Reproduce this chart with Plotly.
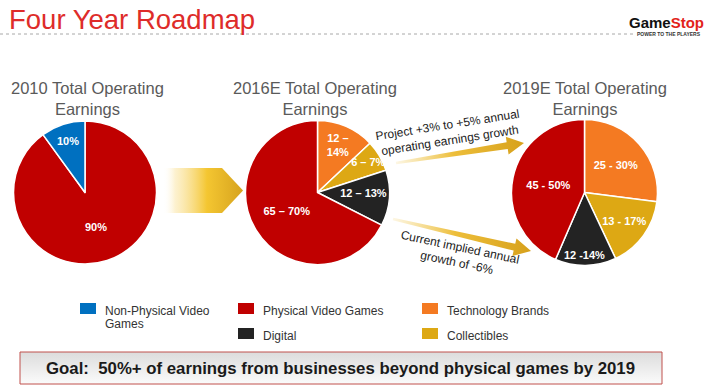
import math
import plotly.graph_objects as go

# ---------------- data ----------------
categories_2010 = ["Physical Video Games", "Non-Physical Video Games"]
values_2010 = [90, 10]
labels_2010 = ["90%", "10%"]

categories_2016 = ["Technology Brands", "Collectibles", "Digital", "Physical Video Games"]
values_2016 = [13, 7, 12.5, 67.5]
labels_2016 = ["12 –<br>14%", "6 – 7%", "12 – 13%", "65 – 70%"]

categories_2019 = ["Technology Brands", "Collectibles", "Digital", "Physical Video Games"]
values_2019 = [27, 16, 13.5, 43.5]
labels_2019 = ["25 - 30%", "13 - 17%", "12 -14%", "45 - 50%"]

pie_titles = ["2010 Total Operating<br>Earnings",
              "2016E Total Operating<br>Earnings",
              "2019E Total Operating<br>Earnings"]

legend_items = ["Non-Physical Video\nGames", "Physical Video Games", "Digital",
                "Technology Brands", "Collectibles"]
legend_keys = ["Non-Physical Video Games", "Physical Video Games", "Digital",
               "Technology Brands", "Collectibles"]

arrow_up_text = "Project +3% to +5% annual<br>operating earnings growth"
arrow_down_text = "Current implied annual<br>growth of -6%"
goal_text = "Goal:  50%+ of earnings from businesses beyond physical games by 2019"
title_text = "Four Year Roadmap"

# ---------------- style ----------------
W, H = 710, 387
COLORS = {
    "Non-Physical Video Games": "#0070C0",
    "Physical Video Games": "#C00000",
    "Technology Brands": "#F47A22",
    "Collectibles": "#DDA814",
    "Digital": "#232323",
}
FONT = "Liberation Sans, Arial, sans-serif"

# pie geometry in pixels: (cx, cy, r)
pie_geom = [(85, 192.5, 71.5), (317.5, 192.5, 72), (584.5, 192.5, 73)]


def domain(cx, cy, r):
    return dict(x=[(cx - r) / W, (cx + r) / W],
                y=[(H - cy - r) / H, (H - cy + r) / H])


fig = go.Figure()

# ---------- decorative arrows (pixel axes) ----------
def arrow_poly(x0, y0, x1, y1, w0, w1, hl, hw):
    dx, dy = x1 - x0, y1 - y0
    L = math.hypot(dx, dy)
    ux, uy = dx / L, dy / L
    nx, ny = -uy, ux
    bx, by = x1 - ux * hl, y1 - uy * hl
    pts = [
        (x0 + nx * w0 / 2, y0 + ny * w0 / 2),
        (bx + nx * w1 / 2, by + ny * w1 / 2),
        (bx + nx * hw / 2, by + ny * hw / 2),
        (x1, y1),
        (bx - nx * hw / 2, by - ny * hw / 2),
        (bx - nx * w1 / 2, by - ny * w1 / 2),
        (x0 - nx * w0 / 2, y0 - ny * w0 / 2),
    ]
    pts.append(pts[0])
    return [p[0] for p in pts], [p[1] for p in pts]


gold_scale = [[0, "rgba(240,200,80,0.15)"], [0.45, "#EDBE3A"], [1, "#D7A11C"]]

# chevron
chev_x = [163, 222, 243, 222, 163, 163]
chev_y = [168, 168, 190.5, 213, 213, 168]
fig.add_trace(go.Scatter(
    x=chev_x, y=chev_y, mode="lines", fill="toself", line=dict(width=0),
    fillgradient=dict(type="horizontal",
                      colorscale=[[0, "rgba(255,255,255,0)"], [0.15, "rgba(250,225,150,0.45)"],
                                  [0.55, "#F4C631"], [1, "#D6A31E"]]),
    hoverinfo="skip", showlegend=False))

for (x0, y0, x1, y1) in [(396, 163, 524, 143), (393, 219, 531, 251)]:
    ax, ay = arrow_poly(x0, y0, x1, y1, 2.5, 7, 17, 18)
    fig.add_trace(go.Scatter(
        x=ax, y=ay, mode="lines", fill="toself", line=dict(width=0),
        fillgradient=dict(type="horizontal", colorscale=gold_scale),
        hoverinfo="skip", showlegend=False))

# goal box
gx0, gx1, gy0, gy1 = 20, 662, 352, 384
fig.add_trace(go.Scatter(
    x=[gx0, gx1, gx1, gx0, gx0], y=[gy0, gy0, gy1, gy1, gy0], mode="lines",
    fill="toself", line=dict(width=1, color="#C0504D"),
    fillgradient=dict(type="vertical", colorscale=[[0, "#FBFBFB"], [1, "#DCDCDC"]]),
    hoverinfo="skip", showlegend=False))

# ---------- pies ----------
pie_data = [
    (categories_2010, values_2010, labels_2010),
    (categories_2016, values_2016, labels_2016),
    (categories_2019, values_2019, labels_2019),
]
for (cats, vals, labs), geom in zip(pie_data, pie_geom):
    fig.add_trace(go.Pie(
        labels=cats, values=vals, text=labs, textinfo="text",
        textposition="inside", insidetextorientation="horizontal",
        textfont=dict(family=FONT, size=11, color="white", weight="bold"),
        marker=dict(colors=[COLORS[c] for c in cats], line=dict(color="white", width=1.5)),
        sort=False, direction="clockwise", rotation=0,
        domain=domain(*geom), showlegend=False, hoverinfo="skip"))

annotations = []
shapes = []

# pie titles
title_cx = [87, 315, 585]
for t, cx in zip(pie_titles, title_cx):
    annotations.append(dict(x=cx, y=98.5, xref="x", yref="y", text=t, showarrow=False,
                            font=dict(family=FONT, size=16.5, color="#5A5A5A"),
                            xanchor="center", yanchor="middle"))

# main title
annotations.append(dict(x=7, y=19.5, xref="x", yref="y", text=title_text, showarrow=False,
                        font=dict(family=FONT, size=27.5, color="#DE2C2A"),
                        xanchor="left", yanchor="middle"))
shapes.append(dict(type="line", x0=0, x1=633, y0=34, y1=34, xref="x", yref="y",
                   line=dict(color="#A8A8A8", width=1, dash="dot")))

# GameStop logo
annotations.append(dict(x=706, y=22, xref="x", yref="y",
                        text="<b>Game</b><b><span style='color:#E2231A'>Stop</span></b>",
                        showarrow=False, font=dict(family=FONT, size=15, color="#111111"),
                        xanchor="right", yanchor="middle"))
annotations.append(dict(x=703, y=33.5, xref="x", yref="y", text="<b>POWER TO THE PLAYERS</b>",
                        showarrow=False, font=dict(family=FONT, size=5, color="#333333"),
                        xanchor="right", yanchor="middle"))

# arrow texts
annotations.append(dict(x=448, y=133, xref="x", yref="y", text=arrow_up_text, showarrow=False,
                        textangle=-9, font=dict(family=FONT, size=12, color="#222222"),
                        xanchor="center", yanchor="middle"))
annotations.append(dict(x=458, y=255, xref="x", yref="y", text=arrow_down_text, showarrow=False,
                        textangle=12, font=dict(family=FONT, size=12, color="#222222"),
                        xanchor="center", yanchor="middle"))

# legend (grid positions)
leg_pos = [(80, 308.5), (238, 308.5), (238, 333.5), (422, 308.5), (422, 333.5)]
for lab, key, (lx, ly) in zip(legend_items, legend_keys, leg_pos):
    shapes.append(dict(type="rect", x0=lx, x1=lx + 16, y0=ly - 5.5, y1=ly + 5.5,
                       xref="x", yref="y", fillcolor=COLORS[key], line=dict(width=0)))
    for i, line in enumerate(lab.split("\n")):
        annotations.append(dict(x=lx + 23, y=ly + 2 + 13 * i, xref="x", yref="y", text=line,
                                showarrow=False, font=dict(family=FONT, size=12, color="#333333"),
                                xanchor="left", yanchor="middle"))

# goal text
annotations.append(dict(x=340, y=(gy0 + gy1) / 2, xref="x", yref="y",
                        text="<b>" + goal_text + "</b>", showarrow=False,
                        font=dict(family=FONT, size=16.8, color="#1A1A1A"),
                        xanchor="center", yanchor="middle"))

fig.update_layout(
    width=W, height=H, margin=dict(l=0, r=0, t=0, b=0),
    paper_bgcolor="white", plot_bgcolor="white",
    xaxis=dict(range=[0, W], visible=False, fixedrange=True),
    yaxis=dict(range=[H, 0], visible=False, fixedrange=True),
    uniformtext=dict(minsize=11, mode="show"),
    annotations=annotations, shapes=shapes, showlegend=False,
)

fig.write_html("out.html", config={"displayModeBar": False},
               post_script="document.body.style.margin='0px';")
